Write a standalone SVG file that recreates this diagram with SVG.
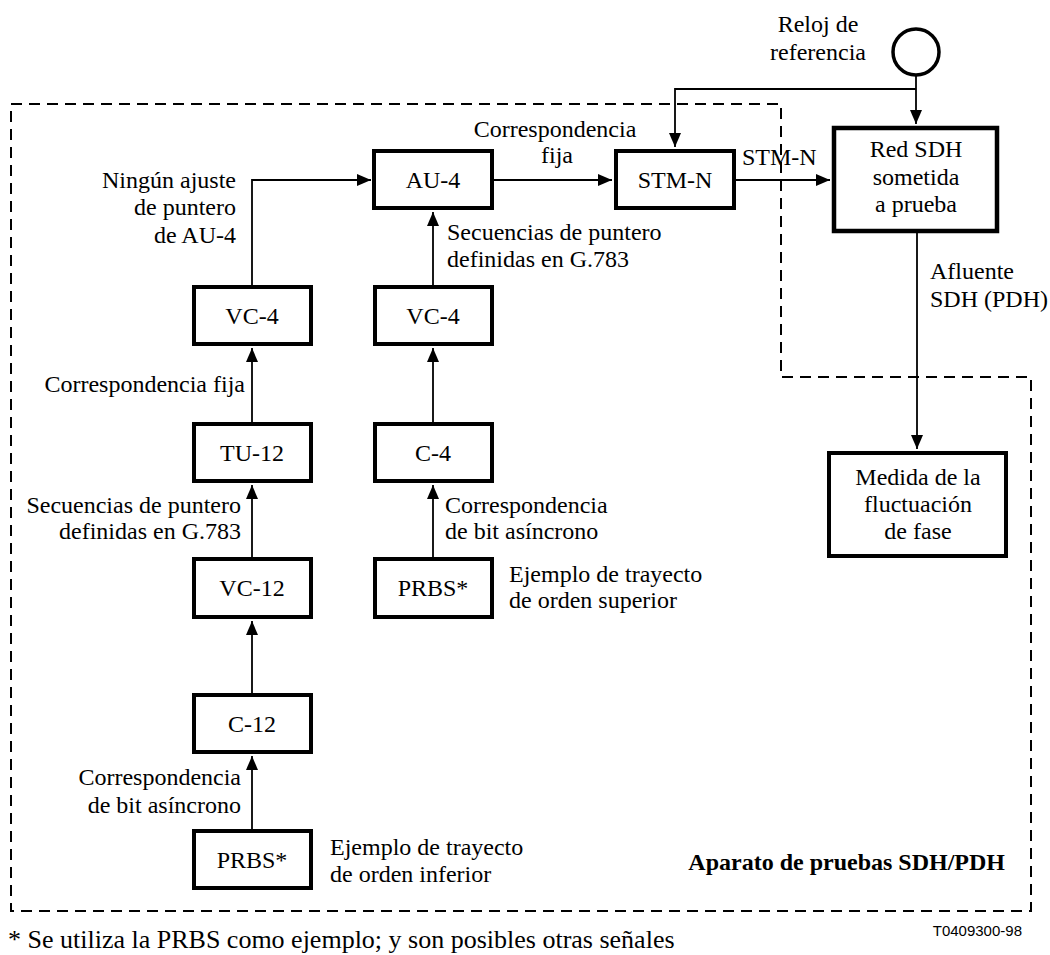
<svg xmlns="http://www.w3.org/2000/svg" width="1050" height="955" viewBox="0 0 1050 955">
<style>
text{font-family:"Liberation Serif","Times New Roman",serif;font-size:24px;fill:#000}
.c{text-anchor:middle}.e{text-anchor:end}
.box{fill:#fff;stroke:#000;stroke-width:4}
.ln{fill:none;stroke:#000;stroke-width:1.8}
.dash{fill:none;stroke:#000;stroke-width:2;stroke-dasharray:11 7}
.b{font-weight:bold}
.sm{font-family:"Liberation Sans",Arial,sans-serif;font-size:15px}
.fn{font-size:26px}
</style>
<defs>
<marker id="ah" viewBox="0 0 14 12" refX="14" refY="6" markerWidth="14" markerHeight="12" markerUnits="userSpaceOnUse" orient="auto">
<path d="M0,0 L14,6 L0,12 Z" fill="#000"/>
</marker>
</defs>
<rect width="1050" height="955" fill="#fff"/>
<g id="boundary">
<path class="dash" d="M11,104 H781 V377 H1031 V911 H11 Z"/>
</g>
<g id="connectors">
<path class="ln" d="M252,829 V756" marker-end="url(#ah)"/>
<path class="ln" d="M252,693 V621" marker-end="url(#ah)"/>
<path class="ln" d="M252,557 V485" marker-end="url(#ah)"/>
<path class="ln" d="M252,422 V348" marker-end="url(#ah)"/>
<path class="ln" d="M252,285 V180 H371" marker-end="url(#ah)"/>
<path class="ln" d="M433,557 V485" marker-end="url(#ah)"/>
<path class="ln" d="M433,422 V348" marker-end="url(#ah)"/>
<path class="ln" d="M433,285 V212" marker-end="url(#ah)"/>
<path class="ln" d="M493,180 H612" marker-end="url(#ah)"/>
<path class="ln" d="M736,180 H830" marker-end="url(#ah)"/>
<path class="ln" d="M916,75 V124" marker-end="url(#ah)"/>
<path class="ln" d="M916,89 H675 V147" marker-end="url(#ah)"/>
<path class="ln" d="M917,233 V449" marker-end="url(#ah)"/>
</g>
<g id="clock">
<circle cx="916" cy="52" r="23" fill="#fff" stroke="#000" stroke-width="3.5"/>
<text class="c" x="818" y="32">Reloj de</text>
<text class="c" x="818" y="60">referencia</text>
</g>
<g id="au4"><rect class="box" x="374" y="151" width="118" height="57"/><text class="c" x="433" y="188">AU-4</text></g>
<g id="stmn"><rect class="box" x="616" y="151" width="118" height="57"/><text class="c" x="675" y="188">STM-N</text></g>
<g id="red"><rect class="box" x="834" y="128" width="163" height="103" style="stroke-width:4.5"/>
<text class="c" x="916" y="157">Red SDH</text><text class="c" x="916" y="185">sometida</text><text class="c" x="916" y="212">a prueba</text></g>
<g id="medida"><rect class="box" x="829" y="453" width="177" height="103"/>
<text class="c" x="918" y="485">Medida de la</text><text class="c" x="918" y="512">fluctuación</text><text class="c" x="918" y="539">de fase</text></g>
<g id="vc4a"><rect class="box" x="194" y="287" width="117" height="57"/><text class="c" x="252" y="324">VC-4</text></g>
<g id="tu12"><rect class="box" x="194" y="424" width="117" height="57"/><text class="c" x="252" y="461">TU-12</text></g>
<g id="vc12"><rect class="box" x="194" y="559" width="117" height="58"/><text class="c" x="252" y="596">VC-12</text></g>
<g id="c12"><rect class="box" x="194" y="695" width="117" height="57"/><text class="c" x="252" y="732">C-12</text></g>
<g id="prbs1"><rect class="box" x="194" y="831" width="117" height="57"/><text class="c" x="252" y="868">PRBS*</text></g>
<g id="vc4b"><rect class="box" x="375" y="287" width="117" height="57"/><text class="c" x="433" y="324">VC-4</text></g>
<g id="c4"><rect class="box" x="375" y="424" width="117" height="57"/><text class="c" x="433" y="461">C-4</text></g>
<g id="prbs2"><rect class="box" x="375" y="559" width="117" height="58"/><text class="c" x="433" y="596">PRBS*</text></g>
<g id="labels">
<text class="c" x="555" y="137">Correspondencia</text>
<text class="c" x="557" y="163">fija</text>
<text x="742" y="165">STM-N</text>
<text class="e" x="236" y="188">Ningún ajuste</text>
<text class="e" x="236" y="215">de puntero</text>
<text class="e" x="236" y="243">de AU-4</text>
<text x="447" y="240">Secuencias de puntero</text>
<text x="447" y="267">definidas en G.783</text>
<text x="930" y="279">Afluente</text>
<text x="930" y="307">SDH (PDH)</text>
<text class="e" x="245" y="392">Correspondencia fija</text>
<text class="e" x="241" y="513">Secuencias de puntero</text>
<text class="e" x="241" y="539">definidas en G.783</text>
<text x="445" y="513">Correspondencia</text>
<text x="445" y="539">de bit asíncrono</text>
<text x="509" y="582">Ejemplo de trayecto</text>
<text x="509" y="608">de orden superior</text>
<text class="e" x="241" y="785">Correspondencia</text>
<text class="e" x="241" y="813">de bit asíncrono</text>
<text x="330" y="855">Ejemplo de trayecto</text>
<text x="330" y="882">de orden inferior</text>
<text class="e b" x="1005" y="870">Aparato de pruebas SDH/PDH</text>
<text class="e sm" x="1022" y="936">T0409300-98</text>
<text class="fn" x="8" y="948">* Se utiliza la PRBS como ejemplo; y son posibles otras señales</text>
</g>
</svg>
